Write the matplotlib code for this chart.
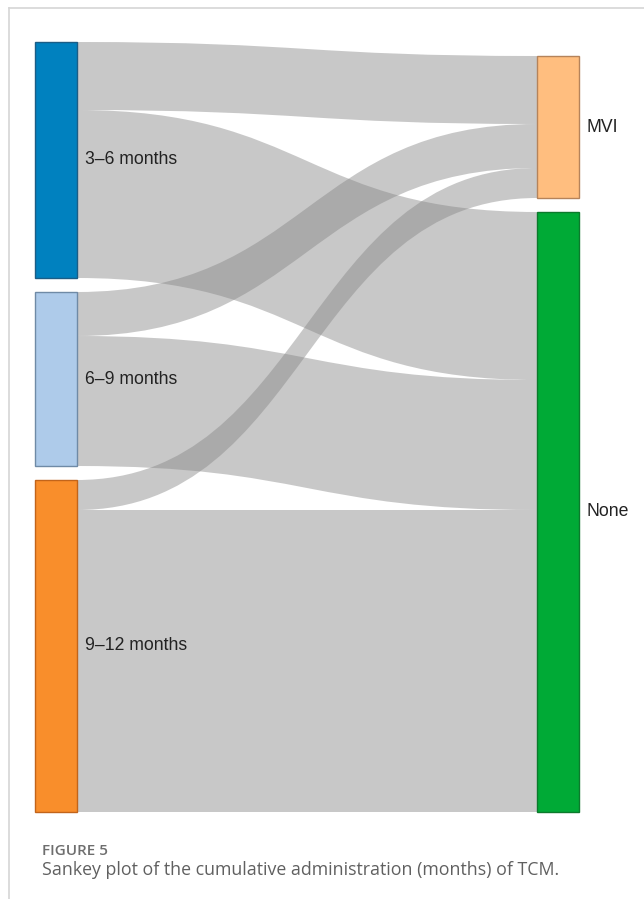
import matplotlib.pyplot as plt
from matplotlib.path import Path
from matplotlib.patches import PathPatch, Rectangle

# data (arbitrary units)
sources = ["3–6 months", "6–9 months", "9–12 months"]
targets = ["MVI", "None"]
flows = [[68, 168],   # 3-6 months -> MVI, None
         [44, 130],   # 6-9 months
         [30, 302]]   # 9-12 months
src_colors = ["#0081bf", "#aecbea", "#f98e2b"]
src_edges = ["#1b5d86", "#6f8aa6", "#c2641a"]
tgt_colors = ["#ffbe7f", "#00aa36"]
tgt_edges = ["#b5835a", "#0c7a2c"]

W, H = 644, 899
fig = plt.figure(figsize=(W / 100, H / 100), dpi=100)
ax = fig.add_axes([0, 0, 1, 1])
ax.set_xlim(0, W)
ax.set_ylim(H, 0)
ax.axis("off")

# layout
xl, xr, nw = 35, 537, 42
top, bottom, gap = 42, 812, 14
src_tot = [sum(r) for r in flows]
tgt_tot = [sum(flows[i][j] for i in range(len(sources))) for j in range(len(targets))]
k = (bottom - top - gap * (len(sources) - 1)) / sum(src_tot)

src_y = []
y = top
for t in src_tot:
    src_y.append(y)
    y += t * k + gap
tgt_y = []
y = bottom - sum(tgt_tot) * k - gap * (len(targets) - 1)
for t in tgt_tot:
    tgt_y.append(y)
    y += t * k + gap

# links
s_off = list(src_y)
t_off = list(tgt_y)
for i in range(len(sources)):
    for j in range(len(targets)):
        h = flows[i][j] * k
        y0, y1 = s_off[i], t_off[j]
        xa, xb = xl + nw, xr
        xm = (xa + xb) / 2
        verts = [(xa, y0), (xm, y0), (xm, y1), (xb, y1),
                 (xb, y1 + h), (xm, y1 + h), (xm, y0 + h), (xa, y0 + h), (xa, y0)]
        codes = [Path.MOVETO, Path.CURVE4, Path.CURVE4, Path.CURVE4,
                 Path.LINETO, Path.CURVE4, Path.CURVE4, Path.CURVE4, Path.CLOSEPOLY]
        ax.add_patch(PathPatch(Path(verts, codes), facecolor="#868686",
                               alpha=0.45, edgecolor="none", zorder=1))
        s_off[i] += h
        t_off[j] += h

# nodes
lab = dict(fontsize=12.7, family=["Liberation Sans", "DejaVu Sans"],
           color="#222222", va="center", ha="left")
for i, name in enumerate(sources):
    h = src_tot[i] * k
    ax.add_patch(Rectangle((xl, src_y[i]), nw, h, facecolor=src_colors[i],
                           edgecolor=src_edges[i], lw=1, zorder=2))
    ax.text(xl + nw + 8, src_y[i] + h / 2, name, zorder=3, **lab)
for j, name in enumerate(targets):
    h = tgt_tot[j] * k
    ax.add_patch(Rectangle((xr, tgt_y[j]), nw, h, facecolor=tgt_colors[j],
                           edgecolor=tgt_edges[j], lw=1, zorder=2))
    ax.text(xr + nw + 8, tgt_y[j] + h / 2, name, zorder=3, **lab)

# frame lines
ax.plot([9, W], [7.5, 7.5], color="#d6d6d6", lw=1.2)
ax.plot([9, 9], [7.5, H], color="#d6d6d6", lw=1.2)

# caption
ax.text(42, 855, "FIGURE 5", fontsize=11, family="Open Sans", fontweight="semibold",
        color="#6e6e6e", ha="left", va="baseline")
ax.text(42, 875, "Sankey plot of the cumulative administration (months) of TCM.",
        fontsize=12.8, family="Open Sans", color="#606060", ha="left", va="baseline")

fig.savefig("out.png", dpi=100)
